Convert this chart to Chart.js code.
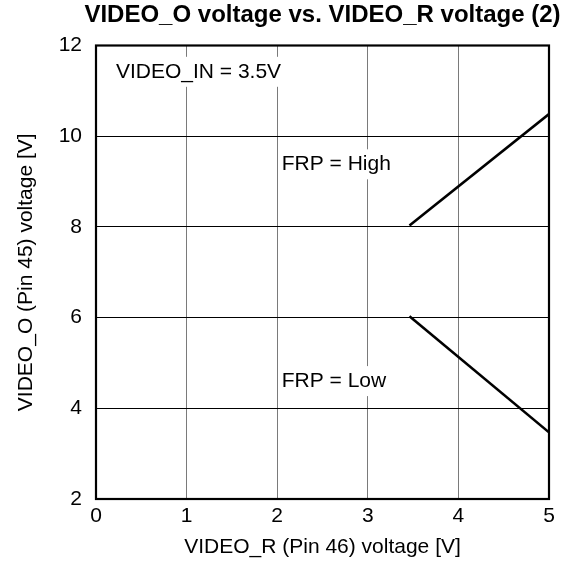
<!DOCTYPE html>
<html><head><meta charset="utf-8">
<script src="https://cdn.jsdelivr.net/npm/chart.js@4.4.0/dist/chart.umd.min.js"></script>
<style>html,body{margin:0;padding:0;background:#fff}#wrap{width:575px;height:567px;position:relative}</style>
</head><body><div id="wrap"><canvas id="c"></canvas></div>
<script>
// ---- data ----
const xHigh = [3.46, 5.0];
const yHigh = [8.03, 10.49];
const xLow = [3.46, 5.0];
const yLow = [6.03, 3.47];
const xTicks = [0, 1, 2, 3, 4, 5];
const yTicks = [2, 4, 6, 8, 10, 12];
const titleText = 'VIDEO_O voltage vs. VIDEO_R voltage (2)';
const xTitle = 'VIDEO_R (Pin 46) voltage [V]';
const yTitle = 'VIDEO_O (Pin 45) voltage [V]';
const noteTexts = ['VIDEO_IN = 3.5V', 'FRP = High', 'FRP = Low'];
const noteX = [0.22, 2.05, 2.05];
const noteY = [11.42, 9.38, 4.60];

const FONT = "'Liberation Sans', Arial, Helvetica, sans-serif";

const notesPlugin = {
  id: 'notes',
  beforeDatasetsDraw(chart) {
    const {ctx, scales: {x, y}} = chart;
    ctx.save();
    ctx.font = '21px ' + FONT;
    ctx.textBaseline = 'middle';
    ctx.textAlign = 'left';
    noteTexts.forEach((t, i) => {
      const px = x.getPixelForValue(noteX[i]);
      const py = y.getPixelForValue(noteY[i]);
      const w = ctx.measureText(t).width;
      ctx.fillStyle = '#fff';
      ctx.fillRect(px - 2, py - 15, w + 4, 30);
      ctx.fillStyle = '#000';
      ctx.fillText(t, px, py);
    });
    ctx.restore();
  },
  afterDatasetsDraw(chart) {
    const {ctx, chartArea: a} = chart;
    ctx.save();
    ctx.strokeStyle = '#000';
    ctx.lineWidth = 2.2;
    ctx.strokeRect(a.left, a.top, a.right - a.left, a.bottom - a.top);
    // chart title, centred over the plot area
    ctx.font = 'bold 24px ' + FONT;
    ctx.fillStyle = '#000';
    ctx.textAlign = 'center';
    ctx.textBaseline = 'middle';
    ctx.fillText(titleText, (a.left + a.right) / 2, 15.5);
    ctx.restore();
  }
};

new Chart(document.getElementById('c'), {
  type: 'line',
  data: {
    datasets: [
      { label: 'FRP = High', data: xHigh.map((v, i) => ({x: v, y: yHigh[i]})) },
      { label: 'FRP = Low', data: xLow.map((v, i) => ({x: v, y: yLow[i]})) }
    ]
  },
  options: {
    responsive: true,
    maintainAspectRatio: false,
    animation: false,
    devicePixelRatio: 1,
    layout: { padding: { left: 0, right: 26, top: 45.5, bottom: 0 } },
    elements: {
      line: { borderColor: '#000', borderWidth: 2.6, tension: 0, borderCapStyle: 'butt' },
      point: { radius: 0, hoverRadius: 0 }
    },
    plugins: {
      legend: { display: false },
      tooltip: { enabled: false },
      title: { display: false }
    },
    scales: {
      x: {
        type: 'linear', min: 0, max: 5,
        afterBuildTicks: s => { s.ticks = xTicks.map(v => ({value: v})); },
        afterFit: s => { s.height = 68; },
        grid: { color: '#7a7a7a', lineWidth: 1, drawTicks: false },
        border: { display: false },
        ticks: { color: '#000', padding: 5, font: { family: FONT, size: 21 }, maxRotation: 0 },
        title: { display: true, text: xTitle, color: '#000', font: { family: FONT, size: 21 }, padding: { top: 0, bottom: 7 } }
      },
      y: {
        type: 'linear', min: 2, max: 12,
        afterBuildTicks: s => { s.ticks = yTicks.map(v => ({value: v})); },
        afterFit: s => { s.width = 96; },
        grid: { color: '#000', lineWidth: 1, drawTicks: false },
        border: { display: false },
        ticks: { color: '#000', padding: 14, font: { family: FONT, size: 21 } },
        title: { display: true, text: yTitle, color: '#000', font: { family: FONT, size: 21 }, padding: { top: 13.4, bottom: 0 } }
      }
    }
  },
  plugins: [notesPlugin]
});
</script></body></html>
